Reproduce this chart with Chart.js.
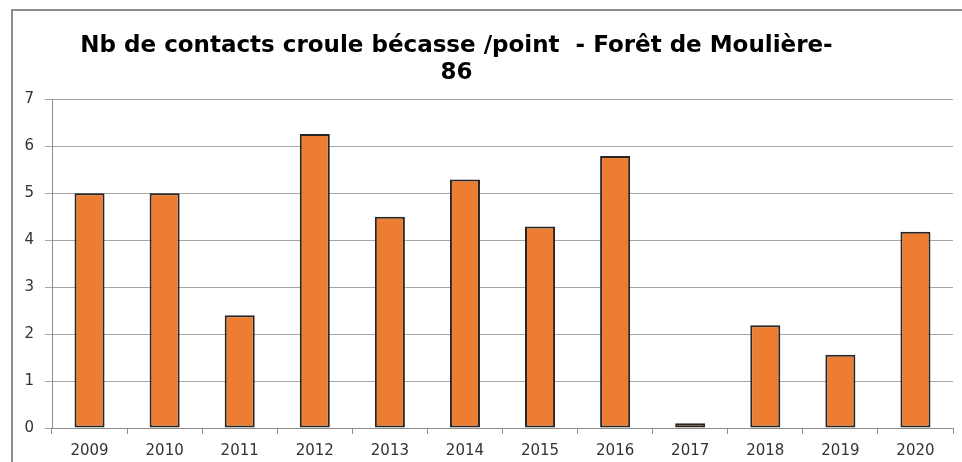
<!DOCTYPE html>
<html>
<head>
<meta charset="utf-8">
<script src="https://cdn.jsdelivr.net/npm/chart.js@4/dist/chart.umd.min.js"></script>
<style>
  html, body { margin: 0; padding: 0; background: #fff; overflow: hidden; }
  canvas { display: block; }
</style>
</head>
<body>
<canvas id="c" width="962" height="462"></canvas>
<script>
const titleLines = ["Nb de contacts croule bécasse /point  - Forêt de Moulière-", "86"];
const years = ["2009","2010","2011","2012","2013","2014","2015","2016","2017","2018","2019","2020"];
const contacts = [5, 5, 2.4, 6.26, 4.5, 5.29, 4.29, 5.79, 0.1, 2.19, 1.56, 4.18];
const yTicks = [0, 1, 2, 3, 4, 5, 6, 7];

const shiftTitle = {
  id: 'shiftTitle',
  afterLayout(chart) {
    const t = chart.titleBlock;
    if (t) { t.right -= 40; }
  }
};

const outerFrame = {
  id: 'outerFrame',
  beforeDraw(chart) {
    const ctx = chart.ctx;
    ctx.save();
    ctx.fillStyle = '#ffffff';
    ctx.fillRect(0, 0, chart.width, chart.height);
    ctx.strokeStyle = '#8c8c8c';
    ctx.lineWidth = 2;
    ctx.beginPath();
    ctx.moveTo(12, chart.height + 2);
    ctx.lineTo(12, 10);
    ctx.lineTo(chart.width + 2, 10);
    ctx.stroke();
    ctx.restore();
  }
};

new Chart(document.getElementById('c'), {
  type: 'bar',
  data: {
    labels: years,
    datasets: [{
      data: contacts,
      backgroundColor: '#ED7D31',
      borderColor: '#262626',
      borderWidth: 2,
      borderSkipped: false,
      barPercentage: 0.4,
      categoryPercentage: 1.0
    }]
  },
  options: {
    responsive: false,
    animation: false,
    layout: { padding: { left: 0, right: 9, top: 0, bottom: 0 } },
    plugins: {
      legend: { display: false },
      tooltip: { enabled: false },
      title: {
        display: true,
        text: titleLines,
        color: '#000',
        font: { family: 'DejaVu Sans', size: 23, weight: 'bold', lineHeight: 1.2 },
        padding: { top: 32, bottom: 12 }
      }
    },
    scales: {
      x: {
        grid: { drawOnChartArea: false, drawTicks: true, tickLength: 6, color: '#8c8c8c', offset: true },
        border: { color: '#8c8c8c', width: 1 },
        ticks: { color: '#333', font: { family: 'DejaVu Sans', size: 15 }, padding: 8, maxRotation: 0 },
        afterFit(scale) { scale.height = 34; }
      },
      y: {
        min: 0, max: 7,
        afterBuildTicks(scale) { scale.ticks = yTicks.map(v => ({ value: v })); },
        grid: { color: '#a6a6a6', lineWidth: 1, drawTicks: true, tickLength: 7 },
        border: { color: '#8c8c8c', width: 1 },
        ticks: { color: '#333', font: { family: 'DejaVu Sans', size: 15 }, padding: 11 },
        afterFit(scale) { scale.width = 52; }
      }
    }
  },
  plugins: [shiftTitle, outerFrame]
});
</script>
</body>
</html>
